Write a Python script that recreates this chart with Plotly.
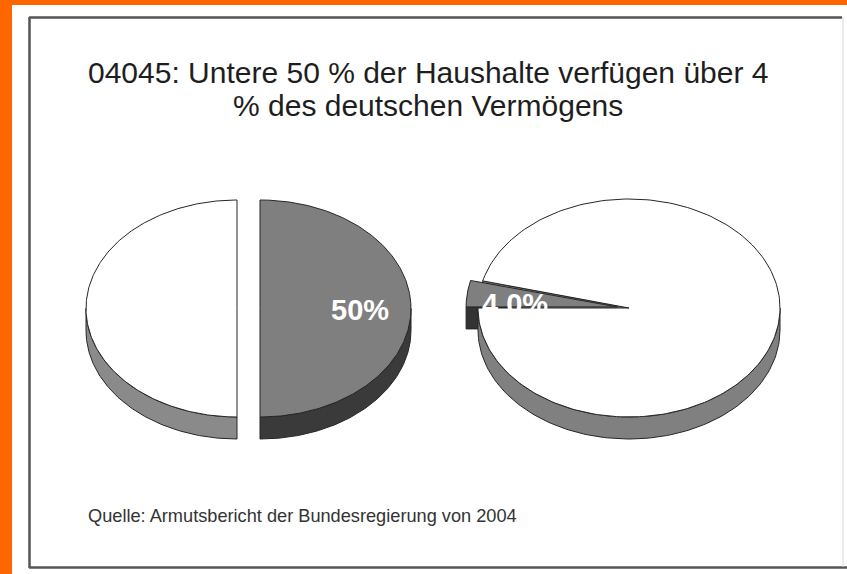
import numpy as np
import plotly.graph_objects as go

# ---------------- data ----------------
left_categories = ["Untere 50 % der Haushalte", "Obere 50 % der Haushalte"]
left_values = [50, 50]
left_labels = ["50%", ""]

right_categories = ["Vermögen der unteren 50 %", "Vermögen der oberen 50 %"]
right_values = [4.0, 96.0]
right_labels = ["4.0%", ""]

title_lines = ["04045: Untere 50 % der Haushalte verfügen über 4",
               "% des deutschen Vermögens"]
source_text = "Quelle: Armutsbericht der Bundesregierung von 2004"

# ---------------- styling / layout ----------------
W, H = 847, 574
FONT = "Arial, Liberation Sans, Helvetica, sans-serif"
EDGE = "#262626"

left_style = dict(cx=248.5, cy=308.5, rx=151, ry=108.5, depth=22, start=90,
                  explode=[11.5, 11.5], label_off=[(0, 1), (0, 0)],
                  top=["#7f7f7f", "#ffffff"], side=["#3a3a3a", "#8a8a8a"])
right_style = dict(cx=629, cy=308, rx=151, ry=109, depth=22, start=180,
                   explode=[12, 0], label_off=[(-3, 6), (0, 0)],
                   top=["#7f7f7f", "#ffffff"], side=["#333333", "#808080"])

fig = go.Figure()


def poly(xs, ys, color):
    fig.add_trace(go.Scatter(x=list(xs) + [xs[0]], y=list(ys) + [ys[0]],
                             mode="lines", fill="toself", fillcolor=color,
                             line=dict(color=EDGE, width=1),
                             hoverinfo="skip", showlegend=False))


def draw_pie(values, labels, st):
    total = float(sum(values))
    rx, ry, d = st["rx"], st["ry"], st["depth"]
    slices = []
    a = np.radians(st["start"])
    for i, v in enumerate(values):
        span = 2 * np.pi * v / total
        hi, lo = a, a - span   # clockwise
        a = lo
        mid = (lo + hi) / 2
        e = st["explode"][i]
        cx = st["cx"] + e * np.cos(mid)
        cy = st["cy"] - e * np.sin(mid) * ry / rx
        slices.append(dict(lo=lo, hi=hi, mid=mid, cx=cx, cy=cy, i=i))

    def P(s, ang):
        return s["cx"] + rx * np.cos(ang), s["cy"] - ry * np.sin(ang)

    # 1. radial cut faces that face the viewer
    for s in slices:
        for ang, normal in ((s["hi"], s["hi"] + np.pi / 2), (s["lo"], s["lo"] - np.pi / 2)):
            if np.sin(normal) < -1e-6:
                x1, y1 = P(s, ang)
                poly([s["cx"], x1, x1, s["cx"]],
                     [s["cy"], y1, y1 + d, s["cy"] + d], st["side"][s["i"]])
    # 2. outer walls (front half only)
    for s in slices:
        for k in (-2, -1, 0, 1):
            a0 = max(s["lo"], np.pi + 2 * np.pi * k)
            a1 = min(s["hi"], 2 * np.pi + 2 * np.pi * k)
            if a1 - a0 > 1e-6:
                t = np.linspace(a0, a1, 120)
                xs = s["cx"] + rx * np.cos(t)
                ys = s["cy"] - ry * np.sin(t)
                poly(np.concatenate([xs, xs[::-1]]),
                     np.concatenate([ys, ys[::-1] + d]), st["side"][s["i"]])
    # 3. top faces
    for s in slices:
        t = np.linspace(s["lo"], s["hi"], 240)
        xs = np.concatenate([[s["cx"]], s["cx"] + rx * np.cos(t)])
        ys = np.concatenate([[s["cy"]], s["cy"] - ry * np.sin(t)])
        poly(xs, ys, st["top"][s["i"]])
    # 4. labels
    for s in slices:
        txt = labels[s["i"]]
        if txt:
            ox, oy = st["label_off"][s["i"]]
            lx = s["cx"] + 0.66 * rx * np.cos(s["mid"]) + ox
            ly = s["cy"] - 0.66 * ry * np.sin(s["mid"]) + oy
            fig.add_annotation(x=lx, y=ly, text=f"<b>{txt}</b>", showarrow=False,
                               xanchor="center", yanchor="middle",
                               font=dict(family=FONT, size=29, color="white"))


draw_pie(left_values, left_labels, left_style)
draw_pie(right_values, right_labels, right_style)

# ---------------- texts ----------------
for line, yy in zip(title_lines, [72, 105]):
    fig.add_annotation(x=428, y=yy, text=line, showarrow=False,
                       xanchor="center", yanchor="middle",
                       font=dict(family=FONT, size=30, color="#1e1e1e"))
fig.add_annotation(x=86, y=516, text=source_text, showarrow=False,
                   xanchor="left", yanchor="middle",
                   font=dict(family=FONT, size=18.2, color="#333333"))

# ---------------- frame & decoration ----------------
shapes = [
    dict(type="rect", x0=0, x1=W, y0=0, y1=5, fillcolor="#ff6600", line_width=0),
    dict(type="rect", x0=0, x1=12, y0=0, y1=H, fillcolor="#ff6600", line_width=0),
    dict(type="line", x0=29, x1=842, y0=17.5, y1=17.5, line=dict(color="#555555", width=2.5)),
    dict(type="line", x0=29.5, x1=29.5, y0=17, y1=568, line=dict(color="#555555", width=2.5)),
    dict(type="line", x0=29, x1=W, y0=567.5, y1=567.5, line=dict(color="#555555", width=2.5)),
    dict(type="line", x0=843, x1=843, y0=17, y1=567, line=dict(color="#d8d8d8", width=1)),
]
for sh in shapes:
    sh.update(xref="x", yref="y", layer="below")
    fig.add_shape(**sh)

fig.update_layout(
    width=W, height=H, margin=dict(l=0, r=0, t=0, b=0),
    paper_bgcolor="white", plot_bgcolor="white",
    xaxis=dict(range=[0, W], visible=False, fixedrange=True),
    yaxis=dict(range=[H, 0], visible=False, fixedrange=True),
    showlegend=False,
)

fig.write_html("out.html",
               config={"displayModeBar": False},
               post_script="document.body.style.margin='0';document.body.style.overflow='hidden';")
